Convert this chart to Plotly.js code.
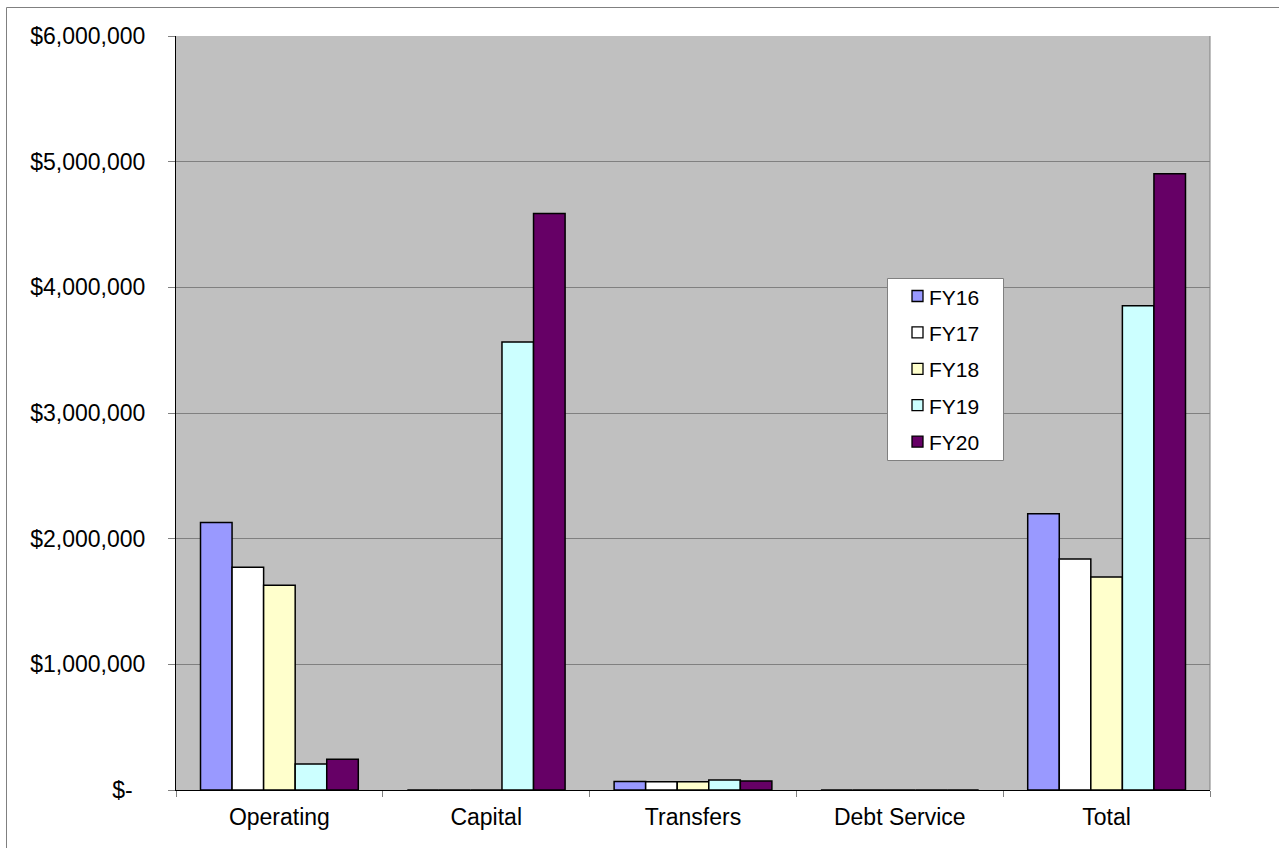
<!DOCTYPE html>
<html>
<head>
<meta charset="utf-8">
<script src="https://cdn.plot.ly/plotly-3.0.1.min.js"></script>
<style>
  html, body { margin: 0; padding: 0; background: #ffffff; }
  #chart { width: 1279px; height: 848px; }
</style>
</head>
<body>
<div id="chart"></div>
<script>
// Budget categories and fiscal-year amounts (dollars)
const categories = ['Operating', 'Capital', 'Transfers', 'Debt Service', 'Total'];
const seriesNames = ['FY16', 'FY17', 'FY18', 'FY19', 'FY20'];
const fy16 = [2129000, 0, 68000, 0, 2198000];
const fy17 = [1773000, 0, 66000, 0, 1839000];
const fy18 = [1629000, 0, 66000, 0, 1695000];
const fy19 = [207000, 3565000, 80000, 0, 3854000];
const fy20 = [244000, 4588000, 72000, 0, 4904000];
const seriesColors = ['#9999FF', '#FFFFFF', '#FFFFCC', '#CCFFFF', '#660066'];
const yTickVals = [0, 1000000, 2000000, 3000000, 4000000, 5000000, 6000000];
const yTickText = ['$-\u00a0\u00a0', '$1,000,000', '$2,000,000', '$3,000,000', '$4,000,000', '$5,000,000', '$6,000,000'];

const seriesValues = [fy16, fy17, fy18, fy19, fy20];

const W = 1279, H = 848;
const M = { l: 176, r: 69, t: 36, b: 58 };
const plotW = W - M.l - M.r;
const plotH = H - M.t - M.b;
const FONT = '"Liberation Sans", Arial, sans-serif';

// pixel -> paper helpers for the frame and the legend box
const px = x => (x - M.l) / plotW;
const py = y => (H - M.b - y) / plotH;

const traces = seriesNames.map((name, i) => ({
  type: 'bar',
  name: name,
  x: categories,
  y: seriesValues[i],
  marker: { color: seriesColors[i], line: { color: '#000000', width: 1.5 } },
  hoverinfo: 'x+y+name'
}));

const shapes = [
  // outer chart frame
  { type: 'rect', xref: 'paper', yref: 'paper',
    x0: px(6.5), x1: px(1300), y0: py(7.5), y1: py(900),
    line: { color: '#808080', width: 1 }, fillcolor: 'rgba(0,0,0,0)', layer: 'below' },
  // right edge of plot area
  { type: 'line', xref: 'paper', yref: 'paper', x0: 1, x1: 1, y0: 0, y1: 1,
    line: { color: '#808080', width: 1 } },
  // legend box
  { type: 'rect', xref: 'paper', yref: 'paper',
    x0: px(887.5), x1: px(1003.5), y0: py(278.5), y1: py(460.5),
    line: { color: '#808080', width: 1 }, fillcolor: '#ffffff' }
];
const annotations = [];
const rowY0 = 296, rowStep = 36.4;
seriesNames.forEach((name, i) => {
  const cy = rowY0 + i * rowStep;
  shapes.push({ type: 'rect', xref: 'paper', yref: 'paper',
    x0: px(912), x1: px(923), y0: py(cy - 5.5), y1: py(cy + 5.5),
    line: { color: '#000000', width: 1.3 }, fillcolor: seriesColors[i] });
  annotations.push({ xref: 'paper', yref: 'paper', x: px(927), y: py(cy + 1),
    xanchor: 'left', yanchor: 'middle', showarrow: false, text: name,
    font: { family: FONT, size: 21, color: '#000000' } });
});

const layout = {
  width: W, height: H,
  margin: M,
  paper_bgcolor: '#ffffff',
  plot_bgcolor: '#C0C0C0',
  barmode: 'group',
  bargap: 0.237,
  bargroupgap: 0,
  showlegend: false,
  font: { family: FONT, size: 23, color: '#000000' },
  xaxis: {
    type: 'category',
    showline: true, linecolor: '#000000', linewidth: 1,
    ticks: 'outside', tickson: 'boundaries', ticklen: 6, tickcolor: '#808080',
    ticklabelstandoff: 6,
    showgrid: false,
    tickfont: { family: FONT, size: 23, color: '#000000' }
  },
  yaxis: {
    range: [0, 6000000],
    tickvals: yTickVals, ticktext: yTickText,
    showline: true, linecolor: '#000000', linewidth: 1,
    ticks: 'outside', ticklen: 7, tickcolor: '#808080',
    ticklabelstandoff: 18,
    showgrid: true, gridcolor: '#808080', gridwidth: 1,
    zeroline: false,
    tickfont: { family: FONT, size: 23, color: '#000000' }
  },
  shapes: shapes,
  annotations: annotations
};

Plotly.newPlot('chart', traces, layout, { displayModeBar: false, staticPlot: true });
</script>
</body>
</html>
